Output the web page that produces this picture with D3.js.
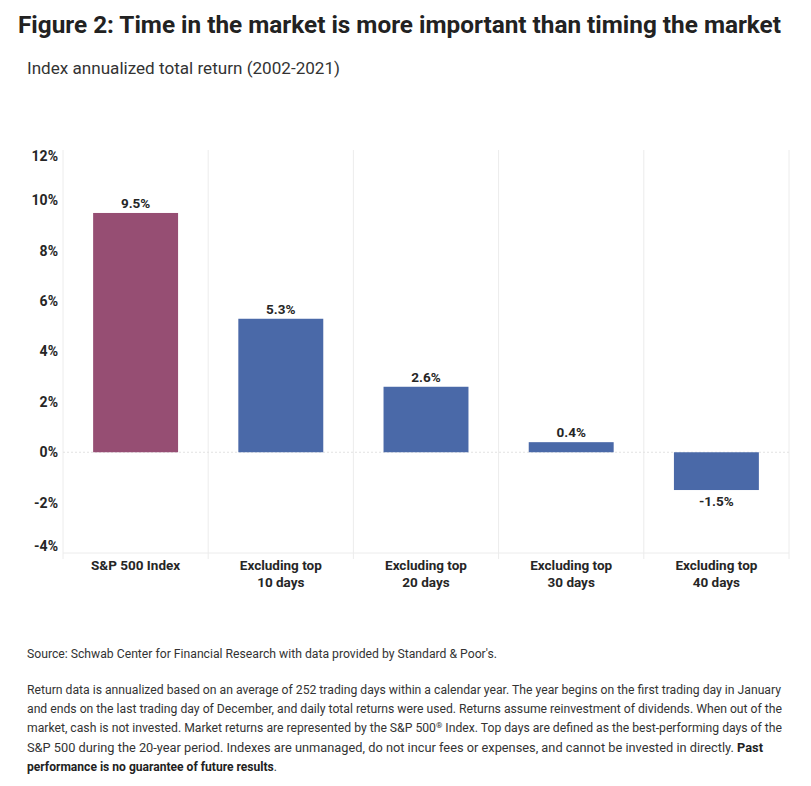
<!DOCTYPE html>
<html>
<head>
<meta charset="utf-8">
<script src="https://cdn.jsdelivr.net/npm/d3@7"></script>
<style>
  body { margin: 0; background: #fff; }
  text { font-family: Roboto, "Noto Sans", sans-serif; fill: #262626; }
</style>
</head>
<body>
<div id="chart"></div>
<script>
// data
var categories = ['S&P 500 Index', 'Excluding top 10 days', 'Excluding top 20 days',
                  'Excluding top 30 days', 'Excluding top 40 days'];
var labelLines = [['S&P 500 Index'], ['Excluding top', '10 days'], ['Excluding top', '20 days'],
                  ['Excluding top', '30 days'], ['Excluding top', '40 days']];
var returns = [9.5, 5.3, 2.6, 0.4, -1.5];
var yTicks = [-4, -2, 0, 2, 4, 6, 8, 10, 12];

(function(d3) {

    var w = 811, h = 786;
    var pLeft = 63, pRight = 789, pTop = 150, pBottom = 553;

    var svg = d3.select('#chart').append('svg')
        .attr('width', w)
        .attr('height', h);

    // title + subtitle
    svg.append('text')
        .attr('x', 18).attr('y', 33)
        .attr('textLength', 763).attr('lengthAdjust', 'spacingAndGlyphs')
        .style('font-size', '24px').style('font-weight', 'bold').style('fill', '#222')
        .text('Figure 2: Time in the market is more important than timing the market');

    svg.append('text')
        .attr('x', 27).attr('y', 74)
        .attr('textLength', 313).attr('lengthAdjust', 'spacingAndGlyphs')
        .style('font-size', '16px').style('fill', '#333')
        .text('Index annualized total return (2002-2021)');

    var x = d3.scaleBand()
        .domain(categories)
        .range([pLeft, pRight]);

    var xBar = d3.scaleBand()
        .domain(categories)
        .range([pLeft, pRight])
        .paddingInner(0.415)
        .paddingOuter(0.2075);

    var y = d3.scaleLinear()
        .domain([-4, 12])
        .range([pBottom, pTop]);

    // vertical cell lines
    var edges = categories.map(function(c) { return x(c); }).concat([pRight]);
    svg.selectAll('.vline')
        .data(edges)
        .enter().append('line')
        .attr('x1', function(d) { return d; })
        .attr('x2', function(d) { return d; })
        .attr('y1', pTop)
        .attr('y2', pBottom + 6)
        .attr('stroke', '#ececec')
        .attr('stroke-width', 1);

    // bottom line
    svg.append('line')
        .attr('x1', pLeft).attr('x2', pRight)
        .attr('y1', pBottom).attr('y2', pBottom)
        .attr('stroke', '#ececec');

    // zero line
    svg.append('line')
        .attr('x1', pLeft).attr('x2', pRight)
        .attr('y1', y(0)).attr('y2', y(0))
        .attr('stroke', '#e2e2e2')
        .attr('stroke-dasharray', '2,2');

    // y tick labels (end ones pulled inward like the original)
    svg.selectAll('.ytick')
        .data(yTicks)
        .enter().append('text')
        .attr('x', 58)
        .attr('y', function(d) {
            var shift = d === 12 ? 6 : (d === -4 ? -7 : 0);
            return y(d) + shift;
        })
        .attr('dy', '0.35em')
        .attr('text-anchor', 'end')
        .style('font-size', '14px').style('font-weight', 'bold')
        .text(function(d) { return d + '%'; });

    // bars
    svg.selectAll('.bar')
        .data(returns)
        .enter().append('rect')
        .attr('x', function(d, i) { return xBar(categories[i]); })
        .attr('width', xBar.bandwidth())
        .attr('y', function(d) { return y(Math.max(0, d)); })
        .attr('height', function(d) { return Math.abs(y(d) - y(0)); })
        .attr('fill', function(d, i) { return i === 0 ? '#964e73' : '#4a69a8'; });

    // value labels
    svg.selectAll('.val')
        .data(returns)
        .enter().append('text')
        .attr('x', function(d, i) { return x(categories[i]) + x.bandwidth() / 2; })
        .attr('y', function(d) { return d >= 0 ? y(d) - 5 : y(d) + 16; })
        .attr('text-anchor', 'middle')
        .style('font-size', '13.5px').style('font-weight', 'bold')
        .text(function(d) { return d.toFixed(1) + '%'; });

    // category labels
    labelLines.forEach(function(lines, i) {
        var t = svg.append('text')
            .attr('text-anchor', 'middle')
            .style('font-size', '13.5px').style('font-weight', 'bold');
        lines.forEach(function(l, j) {
            t.append('tspan')
                .attr('x', x(categories[i]) + x.bandwidth() / 2)
                .attr('y', 570 + j * 17)
                .text(l);
        });
    });

    // footer
    svg.append('text')
        .attr('x', 27).attr('y', 658)
        .attr('textLength', 470).attr('lengthAdjust', 'spacingAndGlyphs')
        .style('font-size', '12px').style('fill', '#333')
        .text("Source: Schwab Center for Financial Research with data provided by Standard & Poor's.");

    var notes = [
        { len: 754, parts: [['Return data is annualized based on an average of 252 trading days within a calendar year. The year begins on the first trading day in January', false]] },
        { len: 755, parts: [['and ends on the last trading day of December, and daily total returns were used. Returns assume reinvestment of dividends. When out of the', false]] },
        { len: 755, parts: [['market, cash is not invested. Market returns are represented by the S&P 500', false], ['®', 'sup'], [' Index. Top days are defined as the best-performing days of the', false]] },
        { len: 736, parts: [['S&P 500 during the 20-year period. Indexes are unmanaged, do not incur fees or expenses, and cannot be invested in directly. ', false], ['Past', true]] },
        { len: 250, parts: [['performance is no guarantee of future results', true], ['.', false]] }
    ];

    notes.forEach(function(n, i) {
        var t = svg.append('text')
            .attr('x', 27).attr('y', 694 + i * 19.2)
            .attr('textLength', n.len).attr('lengthAdjust', 'spacingAndGlyphs')
            .style('font-size', '12px').style('fill', '#333');
        n.parts.forEach(function(p) {
            var s = t.append('tspan').text(p[0]);
            if (p[1] === true) s.style('font-weight', 'bold').style('fill', '#222');
            if (p[1] === 'sup') s.attr('baseline-shift', 'super').style('font-size', '8px');
        });
    });

})(window.d3);
</script>
</body>
</html>
